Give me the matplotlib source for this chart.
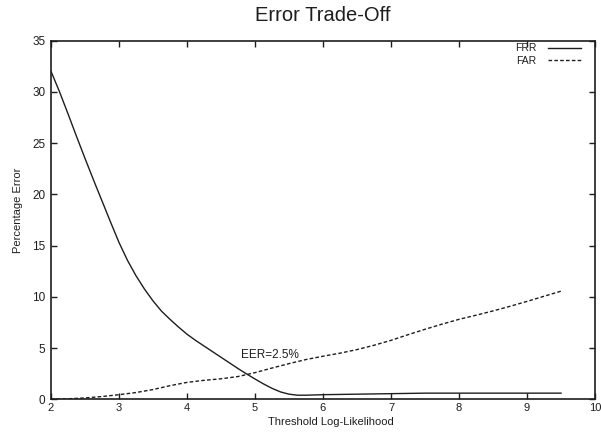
import numpy as np
import matplotlib
matplotlib.use('Agg')
import matplotlib.pyplot as plt

plt.rcParams['font.family'] = ['Liberation Sans', 'DejaVu Sans']

# FRR curve (denser where it bends)
frr_x = [2.0, 2.125, 2.25, 2.375, 2.5, 2.625, 2.75, 2.875, 3.0, 3.125, 3.25, 3.375,
         3.5, 3.625, 3.75, 3.875, 4.0, 4.125, 4.25, 4.375, 4.5, 4.625, 4.75, 4.875,
         5.0, 5.125, 5.25, 5.375, 5.5, 5.625, 5.75, 6.0, 6.5, 7.0, 7.5, 8.0, 8.5, 9.0, 9.5]
frr = [32.0, 30.0, 27.85, 25.65, 23.5, 21.4, 19.35, 17.3, 15.3, 13.55, 12.05, 10.75,
       9.6, 8.6, 7.8, 7.05, 6.35, 5.75, 5.2, 4.65, 4.1, 3.55, 3.0, 2.48,
       1.98, 1.5, 1.07, 0.72, 0.5, 0.4, 0.4, 0.45, 0.5, 0.55, 0.6, 0.6, 0.6, 0.6, 0.6]

# FAR curve
far_x = [2.0, 2.25, 2.5, 2.75, 3.0, 3.25, 3.5, 3.75, 4.0, 4.25, 4.5, 4.75, 5.0,
         5.25, 5.5, 5.75, 6.0, 6.25, 6.5, 6.75, 7.0, 7.25, 7.5, 7.75, 8.0, 8.25,
         8.5, 8.75, 9.0, 9.25, 9.5]
far = [0.0, 0.05, 0.13, 0.27, 0.45, 0.66, 0.95, 1.33, 1.65, 1.85, 2.0, 2.22, 2.6,
       3.05, 3.48, 3.88, 4.2, 4.5, 4.85, 5.27, 5.75, 6.3, 6.83, 7.33, 7.8, 8.2,
       8.62, 9.07, 9.55, 10.05, 10.55]

xticks = [2, 3, 4, 5, 6, 7, 8, 9, 10]
yticks = [0, 5, 10, 15, 20, 25, 30, 35]
eer_label = 'EER=2.5%'
eer_pos = (4.8, 4.3)

ink = '#1e1e1e'

fig = plt.figure(figsize=(6.01, 4.37), dpi=100)
ax = fig.add_axes([51 / 601, 1 - 399.3 / 437, 544 / 601, 358.8 / 437])

ax.plot(frr_x, frr, color=ink, lw=1.0, label='FRR')
ax.plot(far_x, far, color=ink, lw=1.0, linestyle=(0, (2.6, 1.6)), label='FAR')

ax.text(eer_pos[0], eer_pos[1], eer_label, fontsize=8.5, color=ink, va='center', ha='left')

ax.set_xlim(2, 10)
ax.set_ylim(0, 35)
ax.set_xticks(xticks)
ax.set_yticks(yticks)
ax.tick_params(direction='in', length=4, width=1.0, top=True, right=True,
               labelsize=8.5, colors=ink, pad=4)
ax.tick_params(axis='x', labelsize=8, pad=3)
for s in ax.spines.values():
    s.set_linewidth(1.2)
    s.set_color(ink)

ax.set_title('Error Trade-Off', fontsize=14.5, color=ink, pad=14)
ax.set_xlabel('Threshold Log-Likelihood', fontsize=8, color=ink)
ax.set_ylabel('Percentage Error', fontsize=8, color=ink)
ax.xaxis.set_label_coords(0.515, -0.049)
ax.yaxis.set_label_coords(-0.051, 0.528)

leg = ax.legend(loc='upper right', bbox_to_anchor=(0.978, 0.998), frameon=False,
                markerfirst=False, fontsize=7.5, handlelength=3.2, handletextpad=1.1,
                labelspacing=0.25, borderaxespad=0, borderpad=0.2)
for t in leg.get_texts():
    t.set_color(ink)

fig.savefig('out.png', dpi=100)
